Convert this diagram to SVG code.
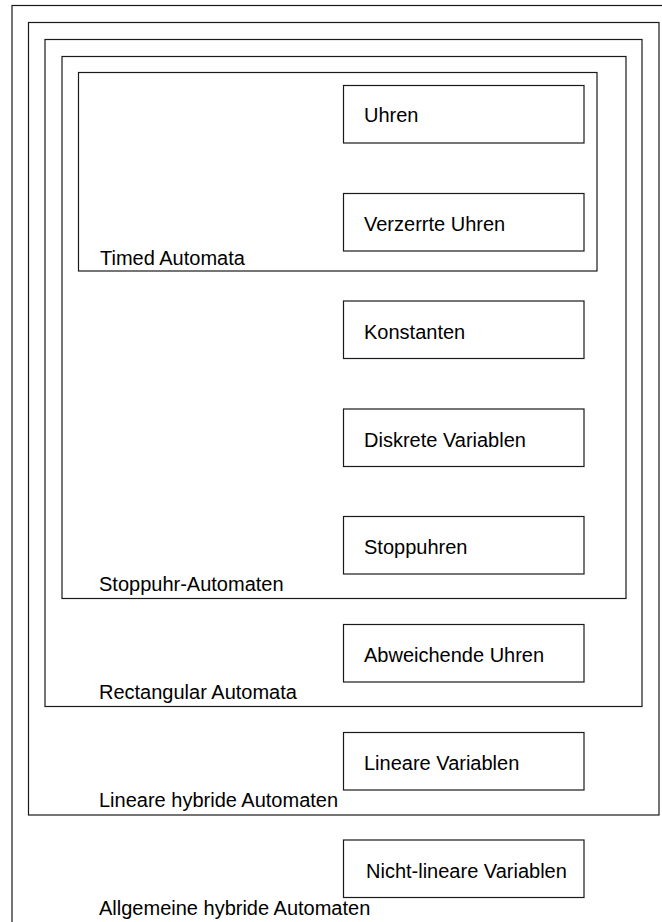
<svg xmlns="http://www.w3.org/2000/svg" width="662" height="922" viewBox="0 0 662 922">
<style>
.c{fill:none;stroke:#1a1a1a;stroke-width:1.2}
.b{fill:#fff;stroke:#1a1a1a;stroke-width:1.2}
text{font-family:"Liberation Sans",Arial,sans-serif;font-size:20px;fill:#000}
</style>
<rect width="662" height="922" fill="#fff"/>
<g id="allgemeine">
<rect class="c" x="12" y="5.5" width="660" height="930"/>
<text x="99" y="915">Allgemeine hybride Automaten</text>
</g>
<g id="lineare">
<rect class="c" x="28.5" y="22.5" width="630.5" height="792.5"/>
<text x="99" y="807">Lineare hybride Automaten</text>
</g>
<g id="rectangular">
<rect class="c" x="45" y="39.5" width="597" height="667"/>
<text x="99" y="699">Rectangular Automata</text>
</g>
<g id="stoppuhr">
<rect class="c" x="62" y="56.5" width="564" height="542"/>
<text x="99" y="591">Stoppuhr-Automaten</text>
</g>
<g id="timed">
<rect class="c" x="78.5" y="72.5" width="518.5" height="198.5"/>
<text x="100" y="265">Timed Automata</text>
</g>
<g id="uhren">
<rect class="b" x="343.5" y="85.5" width="240.5" height="57.5"/>
<text x="364" y="122">Uhren</text>
</g>
<g id="verzerrte">
<rect class="b" x="343.5" y="193.5" width="240.5" height="57.5"/>
<text x="364" y="231">Verzerrte Uhren</text>
</g>
<g id="konstanten">
<rect class="b" x="343.5" y="301" width="240.5" height="57.5"/>
<text x="364" y="338.5">Konstanten</text>
</g>
<g id="diskrete">
<rect class="b" x="343.5" y="409" width="240.5" height="57.5"/>
<text x="364" y="446.5">Diskrete Variablen</text>
</g>
<g id="stoppuhren">
<rect class="b" x="343.5" y="516.5" width="240.5" height="57.5"/>
<text x="364" y="554">Stoppuhren</text>
</g>
<g id="abweichende">
<rect class="b" x="343.5" y="624.5" width="240.5" height="57.5"/>
<text x="364" y="662">Abweichende Uhren</text>
</g>
<g id="linvar">
<rect class="b" x="343.5" y="732.5" width="240.5" height="57.5"/>
<text x="364" y="770">Lineare Variablen</text>
</g>
<g id="nichtlin">
<rect class="b" x="343.5" y="840" width="240.5" height="57.5"/>
<text x="366" y="877.5">Nicht-lineare Variablen</text>
</g>
<g id="connectors"></g>
</svg>
